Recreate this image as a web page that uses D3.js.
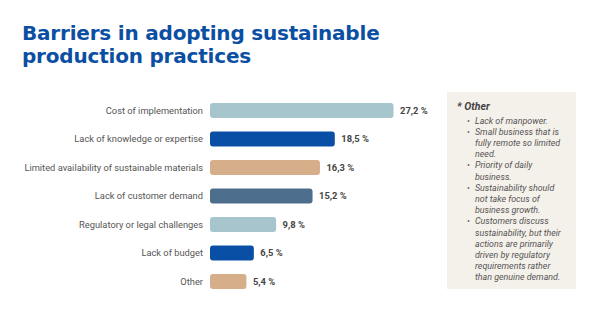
<!DOCTYPE html>
<html>
<head>
<meta charset="utf-8">
<script src="https://cdn.jsdelivr.net/npm/d3@7"></script>
<style>
  body { margin: 0; background: #fff; }
  svg { display: block; }
</style>
</head>
<body>
<svg id="chart" width="600" height="328"></svg>
<script>
let categories = [
  "Cost of implementation",
  "Lack of knowledge or expertise",
  "Limited availability of sustainable materials",
  "Lack of customer demand",
  "Regulatory or legal challenges",
  "Lack of budget",
  "Other"
];
let values = [27.2, 18.5, 16.3, 15.2, 9.8, 6.5, 5.4];
let barColors = ["#a6c5cd", "#0a4fa6", "#d6ae8a", "#4e6e8e", "#a6c5cd", "#0a4fa6", "#d6ae8a"];

let titleLines = ["Barriers in adopting sustainable", "production practices"];
let noteTitle = "* Other";
let noteItems = [
  ["Lack of manpower."],
  ["Small business that is", "fully remote so limited", "need."],
  ["Priority of daily", "business."],
  ["Sustainability should", "not take focus of", "business growth."],
  ["Customers discuss", "sustainability, but their", "actions are primarily", "driven by regulatory", "requirements rather", "than genuine demand."]
];

let svg = d3.select("#chart");

// title
svg.append("g").selectAll("text")
  .data(titleLines)
  .enter()
  .append("text")
  .attr("x", 22)
  .attr("y", (d, i) => 40 + i * 23)
  .attr("font-family", "'DejaVu Sans', sans-serif")
  .attr("font-weight", 700)
  .attr("font-size", 20)
  .attr("letter-spacing", -0.2)
  .attr("fill", "#0b4fa3")
  .text(d => d);

// bars
let xScale = d3.scaleLinear().domain([0, 27.2]).range([210, 393.5]);
let yScale = d3.scaleBand().domain(categories).range([96.25, 295.75]).paddingInner(0.47).paddingOuter(0.235);

let g = svg.append("g");

g.selectAll("rect")
  .data(values)
  .enter()
  .append("rect")
  .attr("x", xScale(0))
  .attr("y", (d, i) => yScale(categories[i]))
  .attr("width", d => xScale(d) - xScale(0))
  .attr("height", yScale.bandwidth())
  .attr("rx", 3)
  .attr("fill", (d, i) => barColors[i]);

g.selectAll(".cat")
  .data(categories)
  .enter()
  .append("text")
  .attr("class", "cat")
  .attr("x", 203)
  .attr("y", d => yScale(d) + yScale.bandwidth() / 2)
  .attr("dy", "0.35em")
  .attr("text-anchor", "end")
  .attr("font-family", "Roboto, sans-serif")
  .attr("font-size", 9.3)
  .attr("fill", "#555")
  .text(d => d);

g.selectAll(".val")
  .data(values)
  .enter()
  .append("text")
  .attr("class", "val")
  .attr("x", d => xScale(d) + 6.5)
  .attr("y", (d, i) => yScale(categories[i]) + yScale.bandwidth() / 2)
  .attr("dy", "0.35em")
  .attr("font-family", "Roboto, sans-serif")
  .attr("font-weight", 700)
  .attr("font-size", 9.4)
  .attr("fill", "#444")
  .text(d => d.toFixed(1).replace(".", ",") + " %");

// note panel
let note = svg.append("g");
note.append("rect")
  .attr("x", 447)
  .attr("y", 92)
  .attr("width", 129)
  .attr("height", 197)
  .attr("fill", "#f4f0ea");

note.append("text")
  .attr("x", 457)
  .attr("y", 110)
  .attr("font-family", "Roboto, sans-serif")
  .attr("font-weight", 700)
  .attr("font-style", "italic")
  .attr("font-size", 10.5)
  .attr("fill", "#444")
  .text(noteTitle);

let lineH = 11.2, y0 = 123.5, row = 0;
noteItems.forEach(item => {
  note.append("text")
    .attr("x", 467)
    .attr("y", y0 + row * lineH)
    .attr("font-family", "Roboto, sans-serif")
    .attr("font-size", 8.5)
    .attr("fill", "#666")
    .text("•");
  item.forEach(line => {
    note.append("text")
      .attr("x", 475)
      .attr("y", y0 + row * lineH)
      .attr("font-family", "Roboto, sans-serif")
      .attr("font-style", "italic")
      .attr("font-size", 8.9)
      .attr("fill", "#555")
      .text(line);
    row++;
  });
});
</script>
</body>
</html>
